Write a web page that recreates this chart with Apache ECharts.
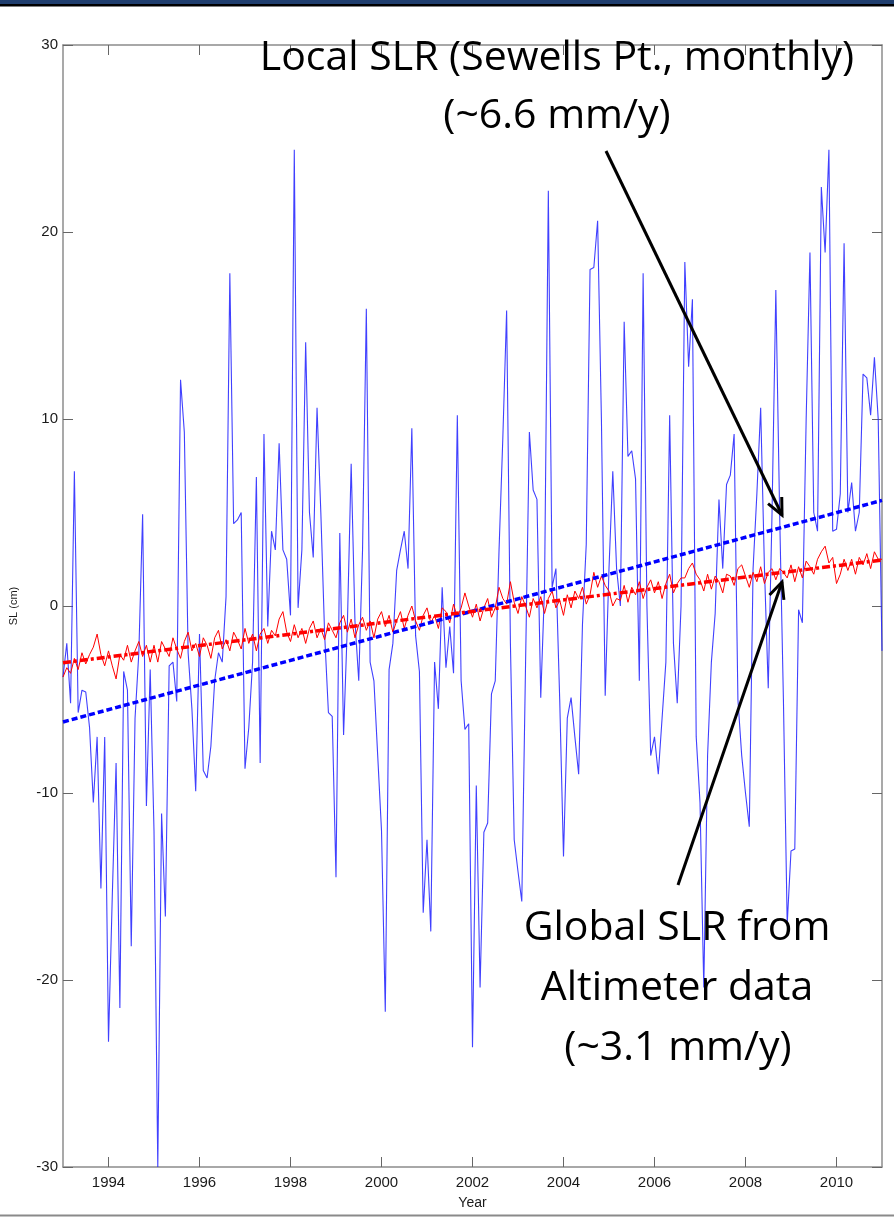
<!DOCTYPE html>
<html><head><meta charset="utf-8">
<script src="https://cdn.jsdelivr.net/npm/echarts@6/dist/echarts.min.js"></script>
<style>html,body{margin:0;padding:0;background:#fff;}#c{width:894px;height:1218px;}</style>
</head><body><div id="c"></div>
<script>
// ---- data ----
const startYear = 1993; // first monthly sample (Jan 1993), one value per month
const localMonthly = [
-3.8,-2.0,-5.2,7.2,-5.7,-4.5,-4.6,-6.5,-10.5,-7.0,-15.1,-7.0,
-23.3,-15.5,-8.4,-21.5,-3.5,-4.5,-18.2,-6.0,-2.5,4.9,-10.7,-3.4,
-12.0,-30.0,-11.1,-16.6,-3.2,-3.0,-5.1,12.1,9.3,-2.5,-5.5,-9.9,
-1.5,-8.8,-9.2,-7.5,-4.0,-2.5,-3.0,0.5,17.8,4.4,4.6,5.0,
-8.7,-6.5,-3.0,6.9,-8.4,9.2,-1.1,4.0,3.0,8.7,3.0,2.5,
-0.5,24.4,-0.1,3.0,14.1,5.0,2.6,10.6,5.0,-1.5,-5.7,-5.9,
-14.5,3.9,-6.9,-1.0,7.6,-0.8,-4.0,3.0,15.9,-3.0,-4.0,-8.0,
-12.0,-21.7,-3.4,-2.0,1.9,3.0,4.0,2.0,9.5,-1.6,-3.5,-16.4,
-12.5,-17.4,-3.0,-5.5,1.0,-3.3,-1.1,-3.6,10.2,-4.0,-6.6,-6.3,
-23.6,-9.6,-20.4,-12.1,-11.6,-4.7,-4.0,3.0,9.0,15.8,-2.0,-12.5,
-14.2,-15.8,-3.0,9.3,6.2,5.7,-4.9,1.0,22.2,1.0,2.0,-5.0,
-13.4,-6.0,-4.9,-7.0,-9.0,-1.0,3.3,18.0,18.1,20.6,10.0,-4.8,
2.0,7.2,2.0,0.0,15.2,8.0,8.3,6.8,-4.0,17.8,0.0,-8.0,
-7.0,-9.0,-6.0,-3.0,10.2,-2.0,-5.2,0.0,18.4,12.8,16.4,-7.0,
-10.5,-20.4,-8.0,-3.0,-0.4,5.7,2.0,6.5,7.0,9.2,-5.0,-8.0,
-10.0,-11.8,2.0,6.0,10.6,2.0,-4.4,5.0,16.9,5.0,-5.0,-17.0,
-13.1,-13.0,-0.2,-0.9,10.0,18.9,5.0,4.0,22.4,18.9,24.4,4.0,
4.1,6.0,19.4,5.0,6.6,4.0,5.0,12.4,12.2,10.2,13.3,10.0,
-2.4
];
const globalMonthly = [
-3.8,-3.3,-3.6,-2.8,-3.4,-2.5,-3.1,-2.6,-2.2,-1.5,-2.6,-3.2,
-2.4,-3.2,-3.9,-2.6,-2.9,-2.1,-3.0,-2.4,-1.9,-2.7,-2.1,-3.0,
-2.1,-3.0,-1.9,-2.3,-2.7,-1.7,-2.3,-2.8,-1.9,-1.4,-2.4,-2.0,
-2.7,-1.7,-2.1,-2.8,-1.7,-1.3,-2.3,-1.8,-2.4,-1.4,-1.8,-2.3,
-1.2,-2.0,-1.5,-2.4,-1.5,-1.2,-2.0,-1.3,-1.6,-0.7,-0.3,-1.4,
-1.9,-1.0,-1.7,-1.2,-2.0,-1.2,-0.8,-1.7,-1.2,-1.8,-0.9,-1.3,
-1.7,-0.9,-0.5,-1.4,-0.7,-1.7,-1.0,-0.6,-1.3,-0.8,-1.7,-0.7,
-0.3,-1.1,-0.5,-1.4,-0.8,-0.3,-1.2,-0.5,0.0,-0.8,-1.3,-0.5,
-0.1,-0.9,-0.5,-1.2,-0.1,-0.3,-0.9,0.1,-0.6,-0.1,0.7,0.0,
-0.6,0.1,-0.8,-0.1,0.4,-0.6,-0.1,1.0,0.4,0.1,1.3,0.2,
-0.4,0.5,0.0,-0.6,0.4,-0.1,0.5,-0.4,0.4,0.8,-0.1,0.3,
-0.5,0.6,-0.1,0.8,0.4,1.0,0.1,0.6,1.8,1.0,1.6,1.1,
0.8,0.0,0.4,0.3,1.1,0.2,1.0,0.6,1.3,0.4,1.0,1.4,
0.7,1.3,0.4,1.2,1.7,0.7,1.2,1.5,1.5,2.0,2.3,1.7,
1.4,0.8,1.7,0.9,1.6,1.3,0.7,1.7,1.6,1.1,2.0,2.2,
1.6,1.0,1.8,1.3,2.1,1.2,1.8,2.0,1.4,2.0,1.8,1.5,
2.2,1.3,2.1,1.5,2.4,2.1,1.7,2.5,2.9,3.2,2.3,2.6,
1.2,1.7,2.5,1.9,2.5,1.7,2.6,2.2,2.8,2.0,2.9,2.5,
2.5
];
const localTrend = [[1993, -6.2], [2011, 5.65]];   // ~6.6 mm/y
const globalTrend = [[1993, -3.03], [2011, 2.46]]; // ~3.1 mm/y
const xTickValues = [1994, 1996, 1998, 2000, 2002, 2004, 2006, 2008, 2010];
const yTickValues = [-30, -20, -10, 0, 10, 20, 30];
const localLabel = ['Local SLR (Sewells Pt., monthly)', '(~6.6 mm/y)'];
const globalLabel = ['Global SLR from', 'Altimeter data', '(~3.1 mm/y)'];

// ---- chart ----
const toSeries = arr => arr.map((v, i) => [startYear + i / 12, v]);
const chart = echarts.init(document.getElementById('c'), null, {renderer: 'canvas'});
const boxColor = '#8c8c8c';
const sans = 'Liberation Sans, Arial, sans-serif';
const tickFont = {fontFamily: sans, fontSize: 15, color: '#1a1a1a'};
function xAx(pos, show) {
  return {
    type: 'value', position: pos, min: 1993, max: 2011,
    axisLine: {show: true, onZero: false, lineStyle: {color: boxColor, width: 1.5}},
    axisTick: {show: true, inside: true, length: 10, customValues: xTickValues, lineStyle: {color: '#666', width: 1}},
    axisLabel: Object.assign({show: show, customValues: xTickValues, margin: 8, formatter: v => String(v)}, tickFont),
    splitLine: {show: false},
    name: show ? 'Year' : '', nameLocation: 'middle', nameGap: 29,
    nameTextStyle: {fontFamily: sans, fontSize: 14, color: '#1a1a1a'}
  };
}
function yAx(pos, show) {
  return {
    type: 'value', position: pos, min: -30, max: 30, interval: 10,
    axisLine: {show: true, onZero: false, lineStyle: {color: boxColor, width: 1.5}},
    axisTick: {show: true, inside: true, length: 10, customValues: yTickValues, lineStyle: {color: '#666', width: 1}},
    axisLabel: Object.assign({show: show, customValues: yTickValues, margin: 5, formatter: v => String(v)}, tickFont),
    splitLine: {show: false},
    name: show ? 'SL (cm)' : '', nameLocation: 'middle', nameGap: 44, nameRotate: 90,
    nameTextStyle: {fontFamily: sans, fontSize: 11, color: '#1a1a1a'}
  };
}
const annoFont = '"Open Sans", "Noto Sans", sans-serif';
function txt(t, x, y) {
  return {type: 'text', z: 100, style: {text: t, x: x, y: y, textAlign: 'center', textVerticalAlign: 'middle',
    fontSize: 41, fontFamily: annoFont, fill: '#000'}};
}
function arrow(x1, y1, x2, y2) {
  const dx = x2 - x1, dy = y2 - y1, L = Math.hypot(dx, dy);
  const bx = -dx / L, by = -dy / L, a = 25 * Math.PI / 180, h = 18;
  const w1 = [x2 + h * (bx * Math.cos(a) - by * Math.sin(a)), y2 + h * (bx * Math.sin(a) + by * Math.cos(a))];
  const w2 = [x2 + h * (bx * Math.cos(a) + by * Math.sin(a)), y2 + h * (-bx * Math.sin(a) + by * Math.cos(a))];
  return [
    {type: 'line', z: 100, shape: {x1: x1, y1: y1, x2: x2, y2: y2}, style: {stroke: '#000', lineWidth: 3}},
    {type: 'polyline', z: 100, shape: {points: [w1, [x2, y2], w2]}, style: {stroke: '#000', lineWidth: 3, fill: null}}
  ];
}
chart.setOption({
  animation: false,
  backgroundColor: '#fff',
  grid: {left: 60, right: 12, top: 45, bottom: 51, containLabel: false},
  xAxis: [xAx('bottom', true), xAx('top', false)],
  yAxis: [yAx('left', true), yAx('right', false)],
  series: [
    {type: 'line', data: toSeries(localMonthly), showSymbol: false, symbol: 'none',
     lineStyle: {color: '#1f1fff', width: 1.1, opacity: 0.85}, z: 2},
    {type: 'line', data: toSeries(globalMonthly), showSymbol: false, symbol: 'none',
     lineStyle: {color: '#ff0000', width: 1}, z: 3},
    {type: 'line', data: localTrend, showSymbol: false, symbol: 'none',
     lineStyle: {color: '#0000ff', width: 3.5, type: [6, 3]}, z: 4},
    {type: 'line', data: globalTrend, showSymbol: false, symbol: 'none',
     lineStyle: {color: '#ff0000', width: 3.5, type: [8, 3, 3, 3]}, z: 5}
  ],
  graphic: [
    {type: 'rect', shape: {x: 0, y: 0, width: 894, height: 4}, style: {fill: '#1f3e6e'}},
    {type: 'rect', shape: {x: 0, y: 4, width: 894, height: 2.5}, style: {fill: '#000'}},
    {type: 'rect', shape: {x: 0, y: 1214.5, width: 894, height: 2}, style: {fill: '#8a8a8a'}},
    txt(localLabel[0], 557, 58), txt(localLabel[1], 557, 116),
    txt(globalLabel[0], 677, 928), txt(globalLabel[1], 677, 988), txt(globalLabel[2], 678, 1048)
  ].concat(arrow(606, 151, 782, 515)).concat(arrow(678, 885, 782, 582))
});
</script></body></html>
